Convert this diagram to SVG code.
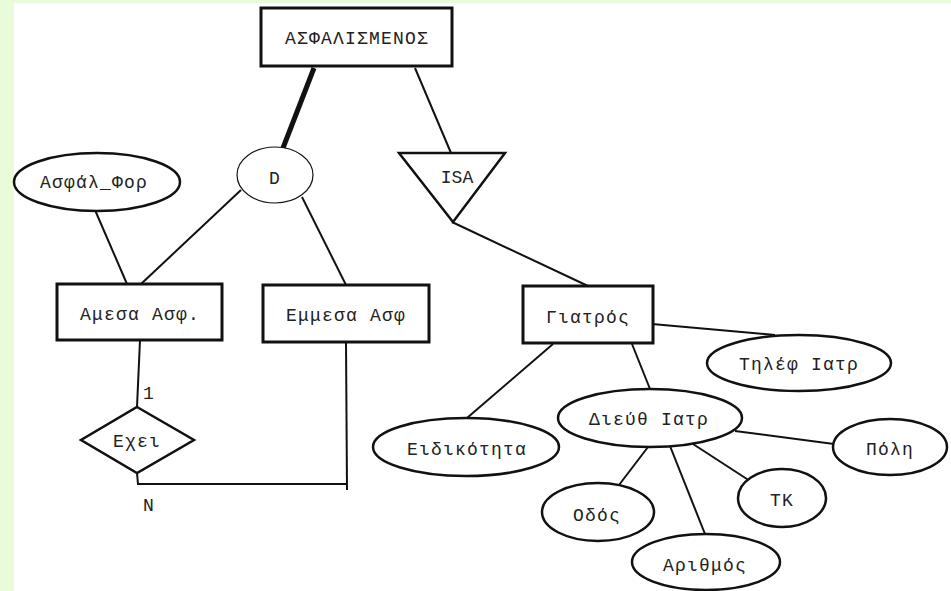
<svg xmlns="http://www.w3.org/2000/svg" width="951" height="591" viewBox="0 0 951 591">
<style>
.t{font-family:"Liberation Mono","DejaVu Sans Mono",monospace;font-size:18px;letter-spacing:1.2px;fill:#222;text-anchor:middle}
.box{fill:#fff;stroke:#111;stroke-width:3}
.ell{fill:#fff;stroke:#111;stroke-width:2.5}
.ln{stroke:#111;stroke-width:2;fill:none}
</style>
<rect x="0" y="0" width="951" height="591" fill="#fff"/>
<rect x="0" y="0" width="14" height="591" fill="#e9fcd9"/>
<rect x="0" y="0" width="951" height="3" fill="#e9fcd9"/>
<g id="connectors">
<line class="ln" x1="314" y1="68" x2="283" y2="148" style="stroke-width:5"/>
<line class="ln" x1="415" y1="68" x2="451" y2="153"/>
<line class="ln" x1="452" y1="222" x2="588" y2="286"/>
<line class="ln" x1="95" y1="210" x2="127" y2="284"/>
<line class="ln" x1="241" y1="190" x2="141" y2="284"/>
<line class="ln" x1="302" y1="197" x2="346" y2="285"/>
<line class="ln" x1="140" y1="340" x2="137" y2="407"/>
<polyline class="ln" points="137,473 138,484 347,484"/>
<line class="ln" x1="346" y1="342" x2="347" y2="490"/>
<line class="ln" x1="652" y1="324" x2="775" y2="335"/>
<line class="ln" x1="553" y1="344" x2="467" y2="418"/>
<line class="ln" x1="632" y1="344" x2="650" y2="389"/>
<line class="ln" x1="735" y1="431" x2="834" y2="444"/>
<line class="ln" x1="693" y1="444" x2="750" y2="481"/>
<line class="ln" x1="648" y1="447" x2="619" y2="485"/>
<line class="ln" x1="668" y1="441" x2="705" y2="534"/>
</g>
<g id="asfalismenos"><rect class="box" x="261" y="8" width="191" height="58"/><text class="t" x="357" y="44">ΑΣΦΑΛΙΣΜΕΝΟΣ</text></g>
<g id="d"><ellipse cx="275" cy="175" rx="38" ry="28" fill="#fff" stroke="#111" stroke-width="1.2"/><text class="t" x="275" y="184">D</text></g>
<g id="isa"><polygon points="399,153 505,153 453,222" fill="#fff" stroke="#111" stroke-width="2.5"/><text class="t" x="457" y="183" style="letter-spacing:0">ISA</text></g>
<g id="asfal-for"><ellipse class="ell" cx="97" cy="182" rx="83" ry="29"/><text class="t" x="94" y="188">Ασφάλ_Φορ</text></g>
<g id="amesa"><rect class="box" x="57" y="284" width="165" height="56"/><text class="t" x="140" y="320">Αμεσα Ασφ.</text></g>
<g id="emmesa"><rect class="box" x="263" y="285" width="166" height="57"/><text class="t" x="346" y="321">Εμμεσα Ασφ</text></g>
<g id="exei"><polygon points="137,407 194,440 137,473 81,440" fill="#fff" stroke="#111" stroke-width="2.5"/><text class="t" x="137" y="447">Εχει</text></g>
<g id="card"><text class="t" x="149" y="399">1</text><text class="t" x="149" y="511">N</text></g>
<g id="giatros"><rect class="box" x="523" y="286" width="130" height="57"/><text class="t" x="588" y="323">Γιατρός</text></g>
<g id="tilef"><ellipse class="ell" cx="799" cy="363" rx="92" ry="28"/><text class="t" x="799" y="370">Τηλέφ Ιατρ</text></g>
<g id="eidikotita"><ellipse class="ell" cx="466" cy="447" rx="93" ry="29"/><text class="t" x="467" y="455">Ειδικότητα</text></g>
<g id="dieuth"><ellipse class="ell" cx="650" cy="418" rx="92" ry="29"/><text class="t" x="649" y="425">Διεύθ Ιατρ</text></g>
<g id="poli"><ellipse class="ell" cx="890" cy="447" rx="57" ry="28"/><text class="t" x="890" y="455">Πόλη</text></g>
<g id="tk"><ellipse class="ell" cx="782" cy="498" rx="44" ry="29"/><text class="t" x="782" y="506">TK</text></g>
<g id="odos"><ellipse class="ell" cx="598" cy="512" rx="56" ry="29"/><text class="t" x="597" y="521">Οδός</text></g>
<g id="arithmos"><ellipse class="ell" cx="706" cy="562" rx="74" ry="28"/><text class="t" x="705" y="571">Αριθμός</text></g>
</svg>
